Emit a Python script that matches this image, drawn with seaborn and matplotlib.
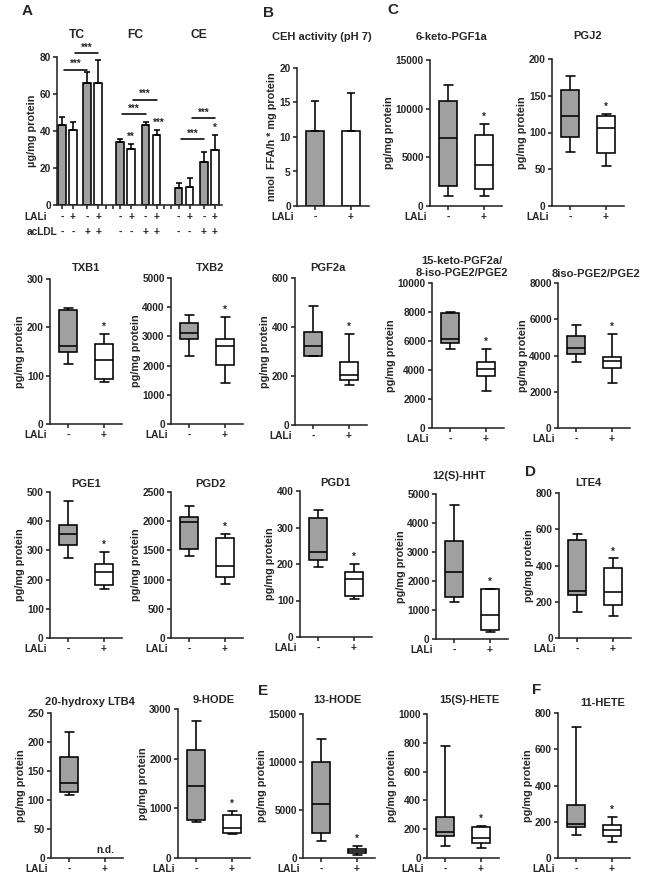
import numpy as np
import pandas as pd
import matplotlib
matplotlib.use('Agg')
import matplotlib.pyplot as plt
import seaborn as sns

sns.set_style('ticks')
plt.rcParams['font.family'] = ['Liberation Sans', 'DejaVu Sans']
plt.rcParams['font.weight'] = 'bold'
plt.rcParams['axes.labelweight'] = 'bold'
plt.rcParams['font.size'] = 7.5

# ---------------- DATA ----------------
# Panel A: cholesterol content (mean, upper error)
A_groups = ['TC', 'FC', 'CE']
A_lali = ['-', '+', '-', '+']
A_acldl = ['-', '-', '+', '+']
A_TC_mean = [43.4, 40.7, 66.1, 66.1]
A_TC_err = [4.2, 4.4, 5.8, 12.3]
A_FC_mean = [33.8, 30.4, 43.2, 38.0]
A_FC_err = [1.9, 2.7, 1.7, 2.5]
A_CE_mean = [9.0, 9.9, 23.2, 30.0]
A_CE_err = [3.0, 4.7, 5.2, 8.0]
A_stars_single = {'FC': {1: '**', 3: '***'}, 'CE': {3: '*'}}
A_brackets = {'TC': [73, 82], 'FC': [49, 57], 'CE': [35.5, 47]}

# Panel B: CEH activity
B_lali = ['-', '+']
B_mean = [10.9, 10.8]
B_err = [4.3, 5.6]

# Box plots: [min, Q1, median, Q3, max] for LALi - and LALi +
PGF1a_keto_neg = [1000, 2100, 7000, 10800, 12400]
PGF1a_keto_pos = [1050, 1750, 4200, 7300, 8400]
PGJ2_neg = [73, 94, 122, 158, 177]
PGJ2_pos = [55, 72, 106, 122, 125]
TXB1_neg = [125, 148, 162, 235, 240]
TXB1_pos = [86, 94, 133, 166, 186]
TXB2_neg = [2340, 2900, 3125, 3445, 3730]
TXB2_pos = [1400, 2035, 2670, 2900, 3670]
PGF2a_neg = [280, 282, 323, 380, 485]
PGF2a_pos = [164, 182, 206, 259, 371]
KetoPGF2a_neg = [5450, 5890, 6120, 7920, 8000]
KetoPGF2a_pos = [2540, 3580, 4040, 4570, 5450]
IsoPGE2_neg = [3660, 4065, 4435, 5060, 5670]
IsoPGE2_pos = [2495, 3290, 3715, 3935, 5175]
PGE1_neg = [275, 317, 357, 388, 470]
PGE1_pos = [167, 181, 227, 252, 294]
PGD2_neg = [1410, 1520, 1985, 2080, 2265]
PGD2_pos = [930, 1050, 1235, 1720, 1780]
PGD1_neg = [191, 212, 233, 327, 348]
PGD1_pos = [105, 113, 160, 178, 200]
HHT_neg = [1260, 1445, 2315, 3385, 4620]
HHT_pos = [240, 320, 835, 1720, 1725]
LTE4_neg = [141, 238, 260, 540, 573]
LTE4_pos = [123, 183, 253, 388, 439]
LTB4_20OH_neg = [109, 113, 129, 174, 217]
LTB4_20OH_pos = None  # n.d.
HODE9_neg = [731, 772, 1456, 2181, 2765]
HODE9_pos = [483, 503, 604, 866, 953]
HODE13_neg = [1800, 2600, 5660, 9965, 12400]
HODE13_pos = [350, 520, 695, 970, 1215]
HETE15_neg = [86, 150, 180, 285, 775]
HETE15_pos = [69, 104, 139, 213, 225]
HETE11_neg = [129, 169, 188, 294, 723]
HETE11_pos = [86, 120, 153, 182, 224]

# ---------------- LAYOUT ----------------
W, H = 650, 883
GRAY = '#a0a0a0'
LW = 1.15
TICK_FS = 7.3
LAB_FS = 7.8
TITLE_FS = 8
fig = plt.figure(figsize=(W / 100, H / 100), dpi=100)


def add_ax(left, top, bottom, width):
    return fig.add_axes([left / W, 1 - bottom / H, width / W, (bottom - top) / H])


def style(ax):
    sns.despine(ax=ax)
    for s in ('left', 'bottom'):
        ax.spines[s].set_linewidth(LW)
    ax.tick_params(width=LW, length=3, pad=1.5, labelsize=TICK_FS)
    for lab in ax.get_xticklabels() + ax.get_yticklabels():
        lab.set_fontweight('bold')


def ftext(x, y, s, size=TITLE_FS, **kw):
    fig.text(x / W, 1 - y / H, s, ha='center', va='center', fontsize=size,
             fontweight='bold', **kw)


def lali_label(ax):
    ax.annotate('LALi', xy=(0, 0), xycoords='axes fraction', xytext=(-2.5, -4.3),
                textcoords='offset points', ha='right', va='top', fontsize=TICK_FS,
                fontweight='bold')


# ---- Panel A ----
axA = add_ax(57, 57, 205, 165)
offs = [0, 1, 2.3, 3.3]
recs = []
means_all = {'TC': (A_TC_mean, A_TC_err), 'FC': (A_FC_mean, A_FC_err),
             'CE': (A_CE_mean, A_CE_err)}
for g, grp in enumerate(A_groups):
    m, e = means_all[grp]
    for i in range(4):
        recs.append((g * 5.3 + offs[i], m[i], e[i], A_lali[i], A_acldl[i], grp, i))
dfA = pd.DataFrame(recs, columns=['pos', 'mean', 'err', 'LALi', 'acLDL', 'grp', 'i'])
sns.barplot(data=dfA, x='pos', y='mean', hue='LALi', palette={'-': GRAY, '+': 'white'},
            native_scale=True, width=0.7, dodge=False, edgecolor='black', linewidth=LW,
            errorbar=None, legend=False, ax=axA)
axA.errorbar(dfA['pos'], dfA['mean'], yerr=[np.zeros(len(dfA)), dfA['err']], fmt='none',
             ecolor='black', elinewidth=LW, capsize=2.2, capthick=LW, zorder=1)
axA.set_xlim(-0.45, 14.55)
axA.set_ylim(0, 80)
axA.set_yticks([0, 20, 40, 60, 80])
gap_ticks = [4.0, 4.6, 9.3, 9.9]
axA.set_xticks(list(dfA['pos']) + gap_ticks)
axA.set_xticklabels([])
axA.set_xlabel('')
axA.set_ylabel('µg/mg protein', labelpad=2, fontsize=LAB_FS)
style(axA)
for _, r in dfA.iterrows():
    axA.annotate(r['LALi'], xy=(r['pos'], 0), xycoords=('data', 'axes fraction'),
                 xytext=(0, -5), textcoords='offset points', ha='center', va='top',
                 fontsize=TICK_FS, fontweight='bold')
    axA.annotate(r['acLDL'], xy=(r['pos'], 0), xycoords=('data', 'axes fraction'),
                 xytext=(0, -15.5), textcoords='offset points', ha='center', va='top',
                 fontsize=TICK_FS, fontweight='bold')
axA.annotate('LALi', xy=(0, 0), xycoords='axes fraction', xytext=(-7, -5),
             textcoords='offset points', ha='right', va='top', fontsize=TICK_FS,
             fontweight='bold')
axA.annotate('acLDL', xy=(0, 0), xycoords='axes fraction', xytext=(0.5, -15.5),
             textcoords='offset points', ha='right', va='top', fontsize=TICK_FS,
             fontweight='bold')
for g, grp in enumerate(A_groups):
    sub = dfA[dfA['grp'] == grp].reset_index(drop=True)
    for k, yb in enumerate(A_brackets[grp]):
        x0, x1 = sub.loc[k, 'pos'] + 0.2, sub.loc[k + 2, 'pos']
        axA.plot([x0, x1], [yb, yb], color='black', lw=LW, clip_on=False)
        axA.annotate('***', xy=((x0 + x1) / 2, yb), xytext=(0, 0.5),
                     textcoords='offset points', ha='center', va='bottom', fontsize=7,
                     fontweight='bold', annotation_clip=False)
    for i, s in A_stars_single.get(grp, {}).items():
        axA.annotate(s, xy=(sub.loc[i, 'pos'], sub.loc[i, 'mean'] + sub.loc[i, 'err']),
                     xytext=(1.5 if s == '***' else 0, 1.5), textcoords='offset points',
                     ha='center', va='bottom', fontsize=7, fontweight='bold')
ftext(77, 35, 'TC', 8.7)
ftext(135, 35, 'FC', 8.7)
ftext(199, 35, 'CE', 8.7)
ftext(27, 11, 'A', 11)

# ---- Panel B ----
axB = add_ax(297, 68, 206, 72)
dfB = pd.DataFrame({'LALi': B_lali, 'mean': B_mean, 'err': B_err})
sns.barplot(data=dfB, x='LALi', y='mean', hue='LALi', palette={'-': GRAY, '+': 'white'},
            width=0.52, dodge=False, edgecolor='black', linewidth=LW, errorbar=None,
            legend=False, ax=axB)
axB.errorbar([0, 1], dfB['mean'], yerr=[np.zeros(2), dfB['err']], fmt='none',
             ecolor='black', elinewidth=LW, capsize=3.2, capthick=LW, zorder=1)
axB.set_xlim(-0.5, 1.5)
axB.set_ylim(0, 20)
axB.set_yticks([0, 5, 10, 15, 20])
axB.set_xlabel('')
axB.set_ylabel('nmol  FFA/h * mg protein', labelpad=2, fontsize=LAB_FS)
style(axB)
lali_label(axB)
ftext(322, 37, 'CEH activity (pH 7)')
ftext(268, 13, 'B', 11)

# ---- Box panels ----
panels = [
    # title, neg, pos, ymax, step, left, top, bottom, title_x, title_y
    ('6-keto-PGF1a', PGF1a_keto_neg, PGF1a_keto_pos, 15000, 5000, 430, 60, 206, 452, 37),
    ('PGJ2', PGJ2_neg, PGJ2_pos, 200, 50, 552, 59, 206, 588, 36),
    ('TXB1', TXB1_neg, TXB1_pos, 300, 100, 50, 279, 424, 86, 268),
    ('TXB2', TXB2_neg, TXB2_pos, 5000, 1000, 171, 278, 424, 210, 268),
    ('PGF2a', PGF2a_neg, PGF2a_pos, 600, 200, 295, 278, 425, 328, 268),
    ('15-keto-PGF2a/\n8-iso-PGE2/PGE2', KetoPGF2a_neg, KetoPGF2a_pos, 10000, 2000,
     432, 283, 428, 462, 267),
    ('8iso-PGE2/PGE2', IsoPGE2_neg, IsoPGE2_pos, 8000, 2000, 558, 283, 428, 596, 274),
    ('PGE1', PGE1_neg, PGE1_pos, 500, 100, 50, 492, 638, 86, 484),
    ('PGD2', PGD2_neg, PGD2_pos, 2500, 500, 171, 492, 638, 210, 484),
    ('PGD1', PGD1_neg, PGD1_pos, 400, 100, 300, 491, 637, 335, 483),
    ('12(S)-HHT', HHT_neg, HHT_pos, 5000, 1000, 436, 494, 639, 459, 476),
    ('LTE4', LTE4_neg, LTE4_pos, 800, 200, 559, 493, 638, 588, 483),
    ('20-hydroxy LTB4', LTB4_20OH_neg, LTB4_20OH_pos, 250, 50, 51, 713, 858, 90, 702),
    ('9-HODE', HODE9_neg, HODE9_pos, 3000, 1000, 178, 709, 858, 214, 700),
    ('13-HODE', HODE13_neg, HODE13_pos, 15000, 5000, 303, 714, 858, 337, 700),
    ('15(S)-HETE', HETE15_neg, HETE15_pos, 1000, 200, 427, 714, 858, 469, 700),
    ('11-HETE', HETE11_neg, HETE11_pos, 800, 200, 558, 713, 858, 603, 703),
]

for (title, neg, pos, ymax, step, left, top, bottom, tx, ty) in panels:
    ax = add_ax(left, top, bottom, 72)
    recs = [('-', v) for v in neg]
    if pos is not None:
        recs += [('+', v) for v in pos]
    df = pd.DataFrame(recs, columns=['LALi', 'val'])
    sns.boxplot(data=df, x='LALi', y='val', hue='LALi', order=['-', '+'],
                hue_order=['-', '+'], palette={'-': GRAY, '+': 'white'},
                whis=(0, 100), width=0.5, linecolor='black', linewidth=LW,
                fliersize=0, dodge=False, legend=False, ax=ax)
    ax.set_xlim(-0.5, 1.5)
    ax.set_ylim(0, ymax)
    ax.set_yticks(np.arange(0, ymax + 1, step))
    ax.set_xticks([0, 1])
    ax.set_xticklabels(['-', '+'])
    ax.set_xlabel('')
    ax.set_ylabel('pg/mg protein', labelpad=1, fontsize=LAB_FS)
    style(ax)
    lali_label(ax)
    if pos is not None:
        ax.annotate('*', xy=(1, max(pos)), xytext=(0, 1.5), textcoords='offset points',
                    ha='center', va='bottom', fontsize=7, fontweight='bold')
    else:
        ax.annotate('n.d.', xy=(1, 0), xytext=(0, 2), textcoords='offset points',
                    ha='center', va='bottom', fontsize=TICK_FS, fontweight='bold')
    ftext(tx, ty, title, TITLE_FS, multialignment='center')

ftext(393, 10, 'C', 11)
ftext(530, 472, 'D', 11)
ftext(263, 691, 'E', 11)
ftext(537, 690, 'F', 11)

fig.savefig('out.png', dpi=100)
